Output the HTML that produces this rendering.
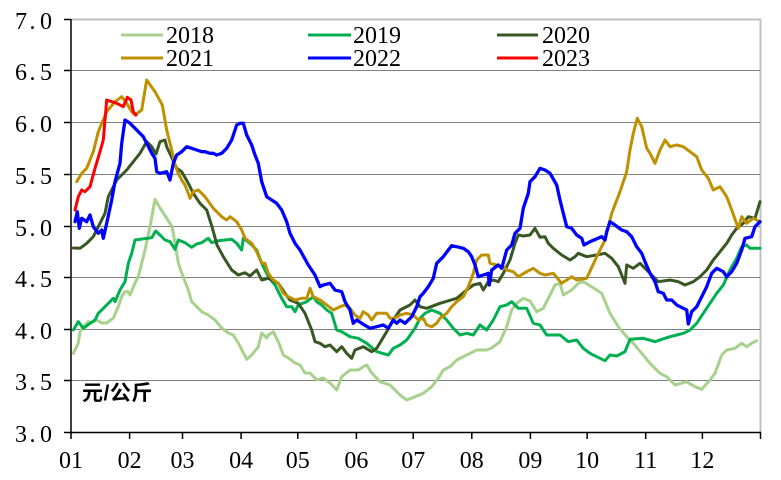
<!DOCTYPE html>
<html><head><meta charset="utf-8"><style>
html,body{margin:0;padding:0;background:#fff;}
svg{display:block;}
.t{font-family:"Liberation Serif",serif;font-size:24px;fill:#000;}
.u{font-family:"Liberation Sans","Noto Sans CJK SC",sans-serif;font-size:21px;font-weight:bold;fill:#000;letter-spacing:0.5px;}
</style></head><body>
<svg width="781" height="480" viewBox="0 0 781 480" xmlns="http://www.w3.org/2000/svg">
<rect width="781" height="480" fill="#fff"/>
<line x1="71" y1="19.5" x2="761" y2="19.5" stroke="#bfbfbf" stroke-width="2"/>
<line x1="760.5" y1="19" x2="760.5" y2="432" stroke="#bfbfbf" stroke-width="2"/>
<g stroke="#808080" stroke-width="1">
<line x1="71" y1="70.5" x2="760" y2="70.5"/>
<line x1="71" y1="122.5" x2="760" y2="122.5"/>
<line x1="71" y1="174.5" x2="760" y2="174.5"/>
<line x1="71" y1="226.5" x2="760" y2="226.5"/>
<line x1="71" y1="277.5" x2="760" y2="277.5"/>
<line x1="71" y1="329.5" x2="760" y2="329.5"/>
<line x1="71" y1="380.5" x2="760" y2="380.5"/>
</g>
<g stroke="#000" stroke-width="1.5">
<line x1="71" y1="19" x2="71" y2="433"/>
<line x1="70" y1="432.5" x2="761" y2="432.5"/>
<line x1="64" y1="19.5" x2="71" y2="19.5"/>
<line x1="64" y1="70.5" x2="71" y2="70.5"/>
<line x1="64" y1="122.5" x2="71" y2="122.5"/>
<line x1="64" y1="174.5" x2="71" y2="174.5"/>
<line x1="64" y1="226.5" x2="71" y2="226.5"/>
<line x1="64" y1="277.5" x2="71" y2="277.5"/>
<line x1="64" y1="329.5" x2="71" y2="329.5"/>
<line x1="64" y1="380.5" x2="71" y2="380.5"/>
<line x1="64" y1="432.5" x2="71" y2="432.5"/>
<line x1="71" y1="432" x2="71" y2="439"/>
<line x1="129.6" y1="432" x2="129.6" y2="439"/>
<line x1="182.5" y1="432" x2="182.5" y2="439"/>
<line x1="241.1" y1="432" x2="241.1" y2="439"/>
<line x1="297.8" y1="432" x2="297.8" y2="439"/>
<line x1="356.4" y1="432" x2="356.4" y2="439"/>
<line x1="413.2" y1="432" x2="413.2" y2="439"/>
<line x1="471.8" y1="432" x2="471.8" y2="439"/>
<line x1="530.4" y1="432" x2="530.4" y2="439"/>
<line x1="587.1" y1="432" x2="587.1" y2="439"/>
<line x1="645.7" y1="432" x2="645.7" y2="439"/>
<line x1="702.4" y1="432" x2="702.4" y2="439"/>
<line x1="760.5" y1="432" x2="760.5" y2="439"/>
</g>
<g class="t">
<text x="15 29.5 40" y="29">7.0</text>
<text x="15 29.5 40" y="80">6.5</text>
<text x="15 29.5 40" y="132">6.0</text>
<text x="15 29.5 40" y="184">5.5</text>
<text x="15 29.5 40" y="236">5.0</text>
<text x="15 29.5 40" y="287">4.5</text>
<text x="15 29.5 40" y="339">4.0</text>
<text x="15 29.5 40" y="390">3.5</text>
<text x="15 29.5 40" y="442">3.0</text>
</g>
<g class="t" text-anchor="middle">
<text x="71" y="468">01</text>
<text x="129.6" y="468">02</text>
<text x="182.5" y="468">03</text>
<text x="241.1" y="468">04</text>
<text x="297.8" y="468">05</text>
<text x="356.4" y="468">06</text>
<text x="413.2" y="468">07</text>
<text x="471.8" y="468">08</text>
<text x="530.4" y="468">09</text>
<text x="587.1" y="468">10</text>
<text x="645.7" y="468">11</text>
<text x="702.4" y="468">12</text>
</g>
<text class="u" x="82" y="400">元/公斤</text>
<g fill="none" stroke-width="3" stroke-linejoin="round" stroke-linecap="round">
<polyline stroke="#a9d18e" points="73.3,353.3 78.3,343 80,331.7 85,325 88.3,321.7 91.7,323 96.7,320 101.7,323 106.7,323 113.3,318 118.3,306.7 121.7,296.7 125,291.7 128.3,291.7 130,295 135,283 138.3,276.7 145,250 150,226.7 155,199.3 160,208 171.7,226 173.3,233 178.3,263 181.7,273 188.3,290 191.7,301.7 196.7,306.7 201.7,311.7 208.3,315 215,320 221.7,328 228.3,333 233.3,335 238.3,343 246.7,359.3 251.7,355 258.3,346.7 261.7,333 266.7,338 268.3,335 273.3,331.7 278.3,341.7 283.3,355 288.3,358 295,363 300,365 305,373 310,373 316.7,380 323.3,378 330,383 336.7,390 341.7,376.7 350,370 358.3,370 363.3,366.7 366.7,365 371.7,373 380,381.7 390,385 400,395 406.7,400 415,396.7 423.3,393.3 431.7,386.7 438.3,378.3 443.3,370 450,366.7 456.7,360 463.3,356.7 470,353.3 476.7,350 486.7,350 491.7,348 500,341.7 506.7,326.7 511.7,310 516.7,303.3 523.3,298.3 530,301 536.7,311.7 543.3,308.3 550,295 555,285 560,283.3 563.3,295 571.7,290 578.3,283.3 583.3,281.7 596.7,290 601.7,293.3 610,313.3 618.3,326.7 626.7,336.7 633.3,343.3 641.7,353.3 650,363.3 660,373.3 666.7,376.7 675,385 686.7,381.7 695,386.7 701.7,389.3 710,380 715,373.3 721.7,355 726.7,350 735,348.3 741.7,343.3 746.7,346.7 751.7,343.3 756.7,340.7"/>
<polyline stroke="#00b050" points="73.3,330 78.3,321.7 83.3,328.3 90,323.3 95,320 98.3,313.3 105,306.7 113.3,298.3 115,301.7 120,290 125,281.7 128.3,263.3 131.7,253.3 135,240 151.7,237.7 155.7,231 160,235 165,240 170,241.7 175,249.3 178.3,240 185,242.7 191.7,247.3 196.7,244 201.7,242.7 208.3,238.3 211.7,242.7 218.3,240.7 225,240 231.7,239.3 236.7,243.3 241.7,250 243.3,238.3 250,243.3 256.7,250 261.7,263.3 268.3,276.7 275,285 281.7,298.3 286.7,306.7 291.7,306.7 295,311.7 298.3,305 306.7,301.7 313.3,296.7 316.7,301.7 321.7,305 326.7,310 331.7,313.3 336.7,330 341.7,331.7 350,336.7 358.3,338.3 366.7,343.3 376.7,351.7 388.3,355 393.3,348.3 400,345 406.7,340 415,328.3 420,318.3 425,313.3 431.7,310 440,313.3 446.7,320 453.3,328.3 460,335 466.7,333.3 473.3,335 480,325 486.7,330 493.3,320 500,306.7 506.7,305 511.7,301.7 518.3,308.3 526.7,308.3 533.3,323.3 540,325 546.7,335 550,335 560,335 568.3,341.7 576.7,340 583.3,348.3 590,353.3 596.7,356.7 605,360.7 610,355 616.7,356 625,351.7 630,339.3 643.3,338.3 655,341.7 661.7,339.3 670,336.7 676.7,335 683.3,333.3 690,330 696.7,323.3 703.3,313.3 710,303.3 716.7,293.3 723.3,285 730,270 736.7,258.3 741.7,246.7 746.7,245 750,248.3 760,248.3"/>
<polyline stroke="#385723" points="73.3,248 80,248.3 86.7,243.3 93.3,236.7 98.3,226.7 105,213.3 108.3,196.7 110,193.3 116.7,180 126.7,170 140,153.3 146.7,141.7 151.7,146.7 156,154 160,141.7 165,140 166.7,146.7 176.7,168.3 181.7,171.7 188.3,183.3 193.3,193.3 200,203.3 206.7,210 212,226.7 217,245 223.3,256.7 231.7,270 238.3,275 245,272.7 250,276 256.7,270 261.7,280 268.3,278.3 275,281.7 278.3,283.3 285,293.3 290,300 298.3,303.3 305,313.3 311.7,330 315,341.7 320,343.3 325,346.7 330,345 336.7,351.7 341.7,346.7 346.7,353.3 351.7,358.3 355,350 363.3,346.7 371.7,351.7 376.7,348.3 381.7,340 386.7,331.7 393.3,320 400,310 410,305 415,300 420,306.7 426.7,308.3 440,303.3 456.7,298.3 466.7,290 473.3,285 480,283.3 483.3,290 488.3,281.7 493.3,280 498.3,281.7 503.3,273.3 510,260 515,243.3 518.3,235 523.3,236 530,235 535,228.3 540,237.3 545,236.7 548.3,243.3 553.3,248.3 561.7,255 570,260 575,256.7 578.3,253.3 586.7,256.7 596.7,255 605,253.3 611.7,258.3 618.3,266.7 621.7,275 625,283.3 626.7,265 633.3,268.3 640,263.3 646.7,270 653.3,276.7 658.3,281.7 670,280 678.3,281.7 685,285 693.3,281.7 700,276.7 706.7,270 713.3,260 720,251.7 726.7,243.3 731.7,235 736.7,228.3 743.3,223.3 748.3,216.7 755,218.3 760,201.7"/>
<polyline stroke="#bf9000" points="76.7,181.7 81.7,173.3 86.7,168.3 93.3,151.7 98.3,131.7 106.7,111.7 115,101.7 121.7,96.7 126.7,103.3 131.7,111.7 135,115 141.7,110 146.7,80 155,91.7 162.3,105 166.7,130 171.7,150 175,165 178.3,173.3 181.7,180 185,185 188.3,193.3 190,198.3 193.3,191.7 198.3,190 205,196.7 213.3,208.3 221.7,216.7 226.7,220 230,216.7 236.7,221.7 241.7,230 245,238.3 251.7,243.3 256.7,251.7 261.7,263.3 265,263.3 268.3,273.3 273.3,280 278.3,283.3 283.3,293.3 288.3,296.7 295,300 301.7,298.3 306.7,298.3 310,288.3 313.3,296.7 320,300 326.7,305 333.3,310 340,306.7 345,305 350,308.3 355,315 360,318.3 363.3,311.7 368.3,315 371.7,320 376.7,313.3 386.7,313.3 390,318.3 395,318.3 400,315 406.7,313.3 413.3,315 418.3,320 423.3,318.3 426.7,325 431.7,326.7 436.7,323.3 440,318.3 446.7,313.3 451.7,306.7 456.7,301.7 463.3,296.7 468.3,286.7 473.3,273.3 476.7,260 481.7,255 488.3,255 490,263.3 496.7,265 503.3,266.7 506.7,270 513.3,271.7 518.3,276.7 526.7,271.7 533.3,268.3 540,273.3 545,275 553.3,273.3 561.7,283.3 571.7,276.7 576.7,280 586.7,278.3 596.7,256.7 605,240 611.7,213.3 620,191.7 626.7,171.7 630,150 633.3,133.3 637.3,118.3 641.7,126.7 646.7,148.3 650,153.3 655,163.3 660,150 665,140 670,146.7 676.7,145 683.3,146.7 690,151.7 696.7,156.7 701.7,170 708.3,178.3 713.3,190 720,186.7 726.7,196.7 731.7,210 738.3,228.3 741.7,216.7 746.7,223.3 753.3,218.3 760,221.7"/>
<polyline stroke="#0000ff" stroke-width="3.3" points="75,221.7 77.3,211.7 79.3,228.3 81.7,218.3 86.7,221.7 90,215 93.3,226.7 98.3,233.3 101.7,230 103.3,238.3 106.7,223.3 111.7,200 115,181.7 120,163.3 121.7,143.3 125,120 130,123.3 136.7,130 143.3,136.7 146.7,143.3 151.7,153.3 155,158.3 156.7,171.7 160,173.3 166.7,171.7 170,180 173.3,163.3 176.7,155 181.7,151.7 186.7,146.7 191.7,148.3 196.7,150 201.7,151.7 205,151.7 210,153.3 213.3,153.3 216.7,155 221.7,153.3 226.7,148.3 231.7,140 236.7,125 240,123.3 243.3,123.3 246.7,135 251.7,145 255,155 258.3,163.3 261.7,181.7 266.7,196.7 271.7,200 276.7,203.3 281.7,210 286.7,221.7 290,233.3 295,243.3 300,250 308.3,265 315,275 320,286.7 323.3,285 330,283.3 335,290 341.7,291.7 345,301.7 350,310 353.3,323.3 356.7,320 361.7,323.3 370,328.3 376.7,326.7 383.3,325 388.3,328.3 393.3,320 396.7,323.3 400,320 405,323.3 411.7,316.7 416.7,306.7 420,296.7 423.3,293.3 428.3,286.7 433.3,278.3 436.7,263.3 443.3,256.7 448.3,250 451.7,245.7 456.7,246.7 463.3,248.3 468.3,251.7 471.7,256.7 475,265 478.3,276.7 483.3,275 488.3,273.3 489.3,285 491.7,270 498.3,265 501.7,268.3 506.7,250 511.7,245 515,233.3 520,228.3 523.3,208.3 528.3,193.3 530,181.7 535,176.7 540,168.3 545,170 550,173.3 556.7,185 560,200 563.3,213.3 566.7,226.7 571.7,228.3 576.7,235 581.7,238.3 584,245 590,241.7 601.7,236.7 605,240 606.7,231.7 610,221.7 615,225 621.7,230 626.7,231.7 631.7,236.7 636.7,246.7 641.7,253.3 645,261.7 650,273.3 655,281.7 658.3,291.7 663.3,293.3 666.7,300 671.7,300 676.7,305 683.3,308.3 686.7,310 688.3,324 691.7,311.7 696.7,306.7 701.7,296.7 706.7,286.7 711.7,273.3 716.7,268.3 723.3,271.7 726.7,276.7 731.7,271.7 736.7,263.3 741.7,250 745,238.3 751.7,236.7 755,226.7 760,221.7"/>
<polyline stroke="#ff0000" points="75,210 78.3,196.7 81.7,190 85,191.7 90,186.7 95,168.3 100,151.7 103.3,140 106.7,100 111.7,101.7 116.7,103.3 123.3,106.7 127.3,97.3 131,100 133.3,111.7 136,115"/>
</g>
<g stroke-width="3">
<line x1="121" y1="35" x2="163" y2="35" stroke="#a9d18e"/>
<line x1="308" y1="35" x2="351" y2="35" stroke="#00b050"/>
<line x1="497" y1="35" x2="538" y2="35" stroke="#385723"/>
<line x1="121" y1="58" x2="163" y2="58" stroke="#bf9000"/>
<line x1="308" y1="58" x2="351" y2="58" stroke="#0000ff"/>
<line x1="497" y1="58" x2="538" y2="58" stroke="#ff0000"/>
</g>
<g class="t">
<text x="166" y="43">2018</text>
<text x="353" y="43">2019</text>
<text x="542" y="43">2020</text>
<text x="166" y="66">2021</text>
<text x="353" y="66">2022</text>
<text x="542" y="66">2023</text>
</g>
</svg>
</body></html>
